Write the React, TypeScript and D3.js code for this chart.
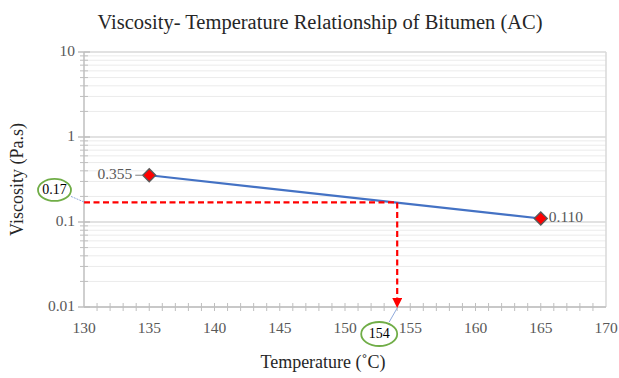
import * as d3 from "d3";

// Measured points
const temps = [135, 165];
const viscosities = [0.355, 0.11];
const pointLabels = ["0.355", "0.110"];

// Read-off from the fitted line
const readTemp = 154;
const readVisc = 0.17;

const xTickValues = [130, 135, 140, 145, 150, 155, 160, 165, 170];
const yTickValues = [0.01, 0.1, 1, 10];
const yTickLabels = ["0.01", "0.1", "1", "10"];

const FONT = "'Liberation Serif', 'Times New Roman', serif";

export default function App() {
  const width = 619;
  const height = 378;
  const margin = { top: 52, right: 13, bottom: 71, left: 84 };
  const innerWidth = width - margin.left - margin.right;
  const innerHeight = height - margin.top - margin.bottom;

  const xScale = d3.scaleLinear().domain([130, 170]).range([0, innerWidth]);
  const yScale = d3.scaleLog().domain([0.01, 10]).range([innerHeight, 0]);

  // minor grid values 2..9 of each decade
  const minorY: number[] = [];
  [0.01, 0.1, 1].forEach((base) => {
    for (let k = 2; k <= 9; k++) minorY.push(base * k);
  });
  const minorX = d3.range(131, 170);

  const points = temps.map((t, i) => ({ t, v: viscosities[i], label: pointLabels[i] }));

  const line = d3
    .line<{ t: number; v: number }>()
    .x((d) => xScale(d.t))
    .y((d) => yScale(d.v));

  const rx = xScale(readTemp);
  const ry = yScale(readVisc);

  const axisColor = "#bfbfbf";
  const gridColor = "#ebebeb";
  const labelColor = "#595959";

  return (
    <svg
      width={width}
      height={height}
      style={{ position: "absolute", left: 0, top: 0, background: "#fff" }}
      fontFamily={FONT}
    >
      <defs>
        <marker
          id="arrow"
          viewBox="0 0 10 10"
          refX={9}
          refY={5}
          markerWidth={4.5}
          markerHeight={4.5}
          orient="auto"
          markerUnits="strokeWidth"
        >
          <path d="M0,0 L10,5 L0,10 Z" fill="#ff0000" />
        </marker>
      </defs>

      {/* Title */}
      <text x={320} y={29} textAnchor="middle" fontSize={20.5} fill="#262626">
        Viscosity- Temperature Relationship of Bitumen (AC)
      </text>

      <g transform={`translate(${margin.left}, ${margin.top})`}>
        {/* Minor grid */}
        {minorY.map((v) => (
          <line
            key={`g${v}`}
            x1={0}
            x2={innerWidth}
            y1={yScale(v)}
            y2={yScale(v)}
            stroke={gridColor}
            strokeWidth={1}
          />
        ))}
        {/* Major grid */}
        {yTickValues.map((v) => (
          <line
            key={`G${v}`}
            x1={0}
            x2={innerWidth}
            y1={yScale(v)}
            y2={yScale(v)}
            stroke="#d9d9d9"
            strokeWidth={1.5}
          />
        ))}
        {/* Right border */}
        <line x1={innerWidth} x2={innerWidth} y1={0} y2={innerHeight} stroke="#d9d9d9" strokeWidth={1.5} />

        {/* Y axis */}
        <line x1={0} x2={0} y1={0} y2={innerHeight} stroke={axisColor} strokeWidth={1.5} />
        {minorY.map((v) => (
          <line key={`ym${v}`} x1={-4} x2={4} y1={yScale(v)} y2={yScale(v)} stroke={axisColor} />
        ))}
        {yTickValues.map((v, i) => (
          <g key={`yt${v}`} transform={`translate(0, ${yScale(v)})`}>
            <line x1={-6} x2={6} stroke={axisColor} strokeWidth={1.5} />
            <text x={-9} textAnchor="end" dominantBaseline="middle" fontSize={15.5} fill={labelColor}>
              {yTickLabels[i]}
            </text>
          </g>
        ))}

        {/* X axis */}
        <line x1={0} x2={innerWidth} y1={innerHeight} y2={innerHeight} stroke={axisColor} strokeWidth={1.5} />
        {minorX.map((t) => (
          <line
            key={`xm${t}`}
            x1={xScale(t)}
            x2={xScale(t)}
            y1={innerHeight - 4}
            y2={innerHeight + 4}
            stroke={axisColor}
          />
        ))}
        {xTickValues.map((t) => (
          <text key={`xt${t}`} x={xScale(t)} y={innerHeight + 26} textAnchor="middle" fontSize={15.5} fill={labelColor}>
            {t}
          </text>
        ))}

        {/* Fitted line */}
        <path d={line(points) || ""} fill="none" stroke="#4472c4" strokeWidth={2.2} />

        {/* Read-off dashed guides */}
        <line x1={0} x2={rx} y1={ry} y2={ry} stroke="#ff0000" strokeWidth={2.2} strokeDasharray="6,3.5" />
        <line
          x1={rx}
          x2={rx}
          y1={ry}
          y2={innerHeight}
          stroke="#ff0000"
          strokeWidth={2.2}
          strokeDasharray="6,3.5"
          markerEnd="url(#arrow)"
        />

        {/* Markers */}
        {points.map((p) => (
          <g key={p.t} transform={`translate(${xScale(p.t)}, ${yScale(p.v)})`}>
            <path d="M0,-6.5 L6.5,0 L0,6.5 L-6.5,0 Z" fill="#ff0000" stroke="#595959" strokeWidth={1.4} />
          </g>
        ))}
        {/* Point labels */}
        <text
          x={xScale(points[0].t) - 17}
          y={yScale(points[0].v)}
          textAnchor="end"
          dominantBaseline="middle"
          fontSize={15.5}
          fill={labelColor}
        >
          {points[0].label}
        </text>
        <line
          x1={xScale(points[0].t) - 14}
          x2={xScale(points[0].t) - 6}
          y1={yScale(points[0].v)}
          y2={yScale(points[0].v)}
          stroke="#808080"
        />
        <text
          x={xScale(points[1].t) + 8}
          y={yScale(points[1].v)}
          dominantBaseline="middle"
          fontSize={15.5}
          fill={labelColor}
        >
          {points[1].label}
        </text>

        {/* Callout: 0.17 */}
        <line x1={-13} y1={ry - 6} x2={1} y2={ry} stroke="#8faadc" strokeWidth={1} strokeDasharray="2,1" />
        <ellipse cx={-29.5} cy={ry - 12.5} rx={16.5} ry={11} fill="#fff" stroke="#70ad47" strokeWidth={1.8} />
        <text x={-29.5} y={ry - 12} textAnchor="middle" dominantBaseline="middle" fontSize={14} fill="#000">
          {readVisc}
        </text>

        {/* Callout: 154 */}
        <line x1={rx - 8} y1={innerHeight + 15} x2={rx} y2={innerHeight + 1} stroke="#8faadc" strokeWidth={1} />
        <ellipse cx={rx - 18} cy={innerHeight + 27} rx={18} ry={12} fill="#fff" stroke="#70ad47" strokeWidth={1.8} />
        <text x={rx - 18} y={innerHeight + 28} textAnchor="middle" dominantBaseline="middle" fontSize={14} fill="#000">
          {readTemp}
        </text>
      </g>

      {/* Axis titles */}
      <text
        transform={`translate(19, ${margin.top + innerHeight / 2}) rotate(-90)`}
        textAnchor="middle"
        dominantBaseline="middle"
        fontSize={18}
        fill="#262626"
      >
        Viscosity (Pa.s)
      </text>
      <text x={323} y={368} textAnchor="middle" fontSize={18} fill="#262626">
        Temperature (˚C)
      </text>
    </svg>
  );
}
